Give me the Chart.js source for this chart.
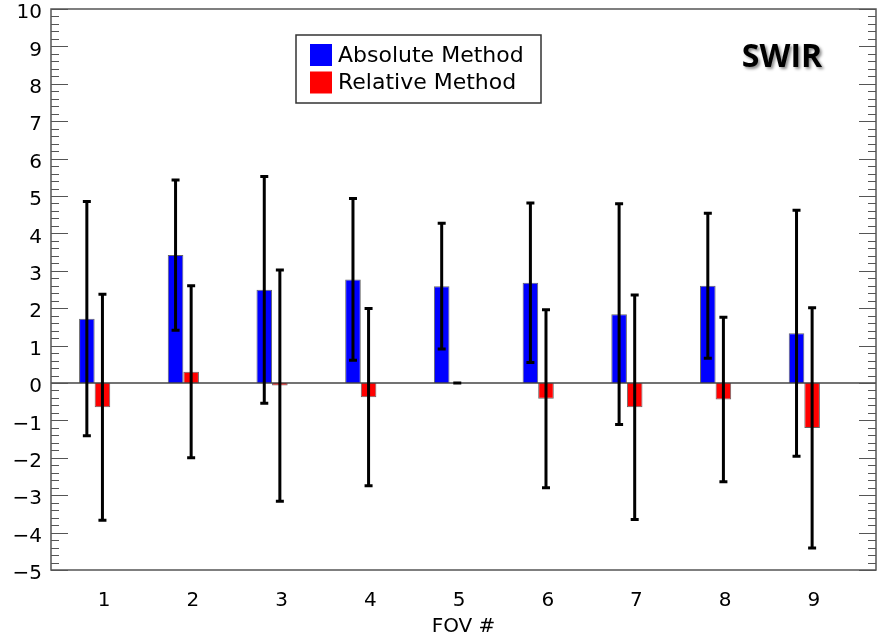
<!DOCTYPE html>
<html>
<head>
<meta charset="utf-8">
<title>SWIR FOV bias</title>
<script src="https://cdn.jsdelivr.net/npm/chart.js@4"></script>
<style>
    html, body { margin: 0; padding: 0; overflow: hidden; background: #ffffff; }
    #wrap { width: 877px; height: 639px; }
    #fovChart { display: block; }
</style>
</head>
<body>
<div id="wrap"><canvas id="fovChart" width="877" height="639"></canvas></div>
<script>
// FOV numbers and per-FOV mean / error-bar half widths for each method
const fovNumbers = [1, 2, 3, 4, 5, 6, 7, 8, 9];
const absoluteMean = [1.72, 3.42, 2.49, 2.77, 2.59, 2.68, 1.84, 2.60, 1.33];
const absoluteErr = [3.13, 2.01, 3.03, 2.16, 1.68, 2.13, 2.95, 1.94, 3.29];
const relativeMean = [-0.65, 0.30, -0.07, -0.38, 0.00, -0.42, -0.65, -0.44, -1.20];
const relativeErr = [3.02, 2.30, 3.09, 2.37, 0.00, 2.38, 3.00, 2.20, 3.21];
const yTicks = [-5, -4, -3, -2, -1, 0, 1, 2, 3, 4, 5, 6, 7, 8, 9, 10];

const FONT = '"DejaVu Sans", sans-serif';

function toPoints(values) {
    return fovNumbers.map((x, i) => ({ x: x, y: values[i] }));
}

// error bars, zero line, inward ticks, legend box and the band label
const overlayPlugin = {
    id: 'overlay',
    afterDatasetsDraw(chart) {
        const ctx = chart.ctx;
        const x = chart.scales.x;
        const y = chart.scales.y;
        const left = x.left, right = x.right, top = y.top, bottom = y.bottom;

        ctx.save();
        // zero line
        ctx.strokeStyle = '#444';
        ctx.lineWidth = 1.5;
        ctx.beginPath();
        ctx.moveTo(left, y.getPixelForValue(0));
        ctx.lineTo(right, y.getPixelForValue(0));
        ctx.stroke();

        // error bars
        const errs = [absoluteErr, relativeErr];
        ctx.strokeStyle = '#000';
        ctx.lineWidth = 3;
        chart.data.datasets.forEach((ds, di) => {
            chart.getDatasetMeta(di).data.forEach((bar, i) => {
                const v = ds.data[i].y;
                const hi = y.getPixelForValue(v + errs[di][i]);
                const lo = y.getPixelForValue(v - errs[di][i]);
                ctx.beginPath();
                ctx.moveTo(bar.x, hi);
                ctx.lineTo(bar.x, lo);
                ctx.moveTo(bar.x - 4, hi);
                ctx.lineTo(bar.x + 4, hi);
                ctx.moveTo(bar.x - 4, lo);
                ctx.lineTo(bar.x + 4, lo);
                ctx.stroke();
            });
        });

        // plot frame
        ctx.strokeStyle = '#555';
        ctx.lineWidth = 1.5;
        ctx.strokeRect(left, top, right - left, bottom - top);

        // inward major / minor ticks on left and right axes
        ctx.lineWidth = 1.2;
        ctx.beginPath();
        for (let k = 0; k <= 75; k++) {
            const val = y.min + k * 0.2;
            const py = Math.round(y.getPixelForValue(val)) + 0.5;
            const len = k % 5 === 0 ? 17 : 8;
            ctx.moveTo(left, py);
            ctx.lineTo(left + len, py);
            ctx.moveTo(right, py);
            ctx.lineTo(right - len, py);
        }
        ctx.stroke();

        // legend
        ctx.fillStyle = '#fff';
        ctx.fillRect(296, 35, 245, 68);
        ctx.strokeStyle = '#333';
        ctx.lineWidth = 1.5;
        ctx.strokeRect(296, 35, 245, 68);
        ctx.font = '22px ' + FONT;
        ctx.textBaseline = 'middle';
        ctx.textAlign = 'left';
        chart.data.datasets.forEach((ds, di) => {
            const rowY = 44 + di * 27.5;
            ctx.fillStyle = ds.backgroundColor;
            ctx.fillRect(310, rowY, 22, 22);
            ctx.fillStyle = '#000';
            ctx.fillText(ds.label, 338, rowY + 12);
        });

        // band label with soft shadow
        ctx.font = 'bold 32px "Open Sans", sans-serif';
        ctx.textAlign = 'center';
        ctx.shadowColor = 'rgba(0,0,0,0.45)';
        ctx.shadowBlur = 3;
        ctx.shadowOffsetX = 2;
        ctx.shadowOffsetY = 2;
        ctx.fillStyle = '#000';
        ctx.fillText('SWIR', 782, 58);
        ctx.restore();
    }
};

const ctx = document.getElementById('fovChart').getContext('2d');
const fovChart = new Chart(ctx, {
    type: 'bar',
    data: {
        datasets: [{
            label: 'Absolute Method',
            data: toPoints(absoluteMean),
            backgroundColor: '#0000ff',
            borderColor: '#666',
            borderWidth: 1,
            clip: false,
            xAxisID: 'xb'
        }, {
            label: 'Relative Method',
            data: toPoints(relativeMean),
            backgroundColor: '#ff0000',
            borderColor: '#666',
            borderWidth: 1,
            clip: false,
            xAxisID: 'xb'
        }]
    },
    options: {
        responsive: false,
        devicePixelRatio: 1,
        animation: false,
        categoryPercentage: 0.435,
        barPercentage: 1,
        layout: { autoPadding: false, padding: { top: 9, right: 1, left: 0, bottom: 0 } },
        plugins: {
            legend: { display: false },
            tooltip: { enabled: false }
        },
        scales: {
            x: {
                type: 'linear',
                position: 'bottom',
                offset: false,
                min: 0.4,
                max: 9.7,
                afterBuildTicks(scale) {
                    scale.ticks = fovNumbers.map(v => ({ value: v }));
                },
                afterFit(scale) {
                    scale.height = 69;
                    scale.paddingLeft = 0;
                    scale.paddingRight = 0;
                },
                ticks: {
                    color: '#000',
                    font: { family: FONT, size: 20 },
                    padding: 19,
                    maxRotation: 0,
                    callback: v => String(v)
                },
                grid: { display: false, drawTicks: false, offset: false },
                border: { display: false },
                title: {
                    display: true,
                    text: 'FOV #',
                    color: '#000',
                    font: { family: FONT, size: 20 },
                    padding: { top: 0, bottom: 0 }
                }
            },
            // bar axis, shifted so each red bar sits on its FOV tick
            xb: {
                type: 'linear',
                display: false,
                offset: false,
                grid: { offset: false },
                min: 0.508,
                max: 9.808
            },
            y: {
                min: -5,
                max: 10,
                afterBuildTicks(scale) {
                    scale.ticks = yTicks.map(v => ({ value: v }));
                },
                afterFit(scale) {
                    scale.width = 51;
                    scale.paddingTop = 0;
                    scale.paddingBottom = 0;
                },
                ticks: {
                    color: '#000',
                    font: { family: FONT, size: 20 },
                    padding: 9,
                    labelOffset: 4,
                    callback: v => v < 0 ? '\u2212' + (-v) : String(v)
                },
                grid: { display: false, drawTicks: false },
                border: { display: false }
            }
        }
    },
    plugins: [overlayPlugin]
});
</script>
</body>
</html>
